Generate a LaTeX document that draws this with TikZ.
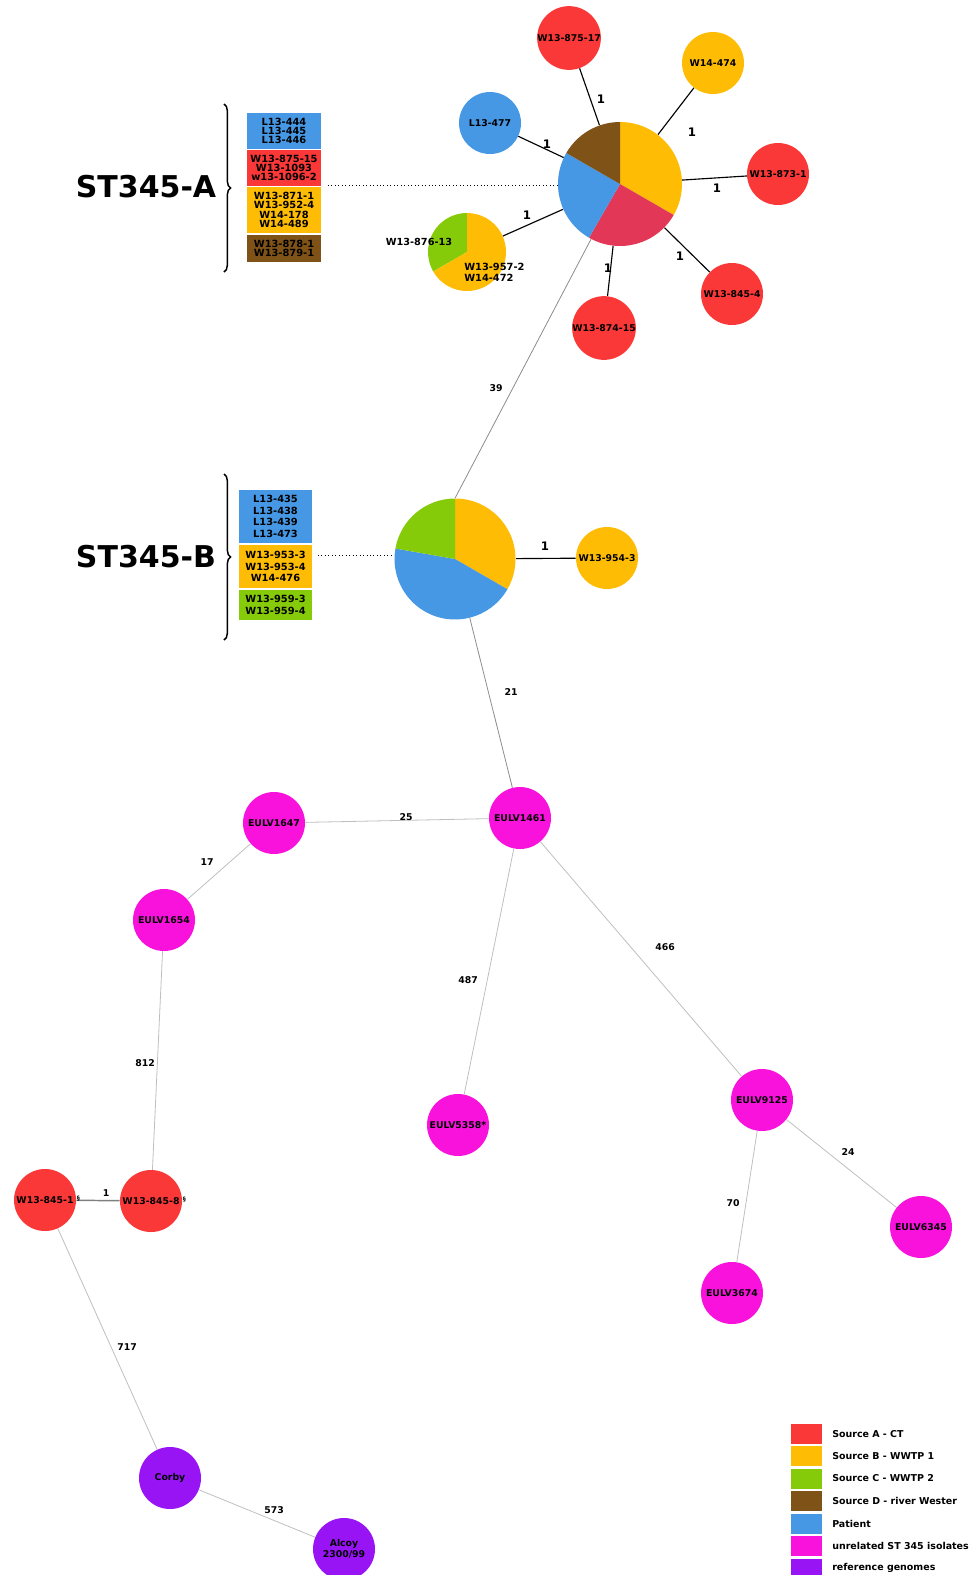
\documentclass[tikz,border=0pt]{standalone}
\usepackage{fontspec}
\setmainfont{DejaVu Sans}
\usetikzlibrary{decorations.pathreplacing}
\pgfdeclarelayer{background}
\pgfsetlayers{background,main}
\definecolor{cRed}{HTML}{FA3838}
\definecolor{cPieRed}{HTML}{E33757}
\definecolor{cYel}{HTML}{FFBC05}
\definecolor{cGrn}{HTML}{85CB0A}
\definecolor{cBrn}{HTML}{7F5318}
\definecolor{cBlu}{HTML}{4697E4}
\definecolor{cMag}{HTML}{F812DC}
\definecolor{cPur}{HTML}{9814F5}
\begin{document}
\begin{tikzpicture}[x=0.75pt,y=0.75pt,
  nd/.style={circle, minimum size=46.5pt, inner sep=0pt, text=black,
    font=\bfseries\fontsize{7}{8.2}\selectfont, align=center},
  pienode/.style={circle, inner sep=0pt, draw=none},
  topedge/.style={draw=black, line width=0.85pt},
  midedge/.style={draw=gray!90, line width=0.6pt},
  lowedge/.style={draw=black!25, line width=0.6pt},
  elbl/.style={font=\bfseries\fontsize{7}{8}\selectfont, inner sep=0pt},
  elblbig/.style={font=\bfseries\fontsize{8.8}{10}\selectfont, inner sep=0pt},
  boxA/.style={minimum width=55.5pt, inner sep=0pt, align=center,
    font=\bfseries\fontsize{7.4}{6.9}\selectfont},
  boxB/.style={minimum width=54.75pt, inner sep=0pt, align=center,
    font=\bfseries\fontsize{7.4}{8.6}\selectfont},
  bigtitle/.style={font=\bfseries\fontsize{22.5}{26}\selectfont, inner sep=0pt},
  bracestyle/.style={draw=black, line width=1.1pt,
    decorate, decoration={brace, amplitude=5pt}},
  legbox/.style={minimum width=23.25pt, minimum height=15pt, inner sep=0pt},
  legtxt/.style={font=\bfseries\fontsize{7.1}{8}\selectfont, inner sep=0pt, anchor=west}
]
\useasboundingbox (0,0) rectangle (973,-1575);

% ---------- pie nodes (invisible, for connectors) ----------
\node[pienode, minimum size=93pt] (pieA) at (620,-184) {};
\node[pienode, minimum size=90.75pt] (pieB) at (455,-559) {};
\node[pienode, minimum size=58.5pt] (pieS) at (467,-252) {};

% ---------- top cluster nodes ----------
\node[nd, fill=cRed] (n875) at (569,-38) {W13-875-17};
\node[nd, fill=cYel] (n474) at (713,-63) {W14-474};
\node[nd, fill=cBlu] (n477) at (490,-123) {L13-477};
\node[nd, fill=cRed] (n873) at (778,-174) {W13-873-1};
\node[nd, fill=cRed] (n8454) at (732,-294) {W13-845-4};
\node[nd, fill=cRed] (n874) at (604,-328) {W13-874-15};
\node[nd, fill=cYel] (n954) at (607,-558) {W13-954-3};

% ---------- lower nodes ----------
\node[nd, fill=cRed] (w8458) at (151,-1201) {W13-845-8\rlap{\hspace{2.5pt}\raisebox{2pt}{\fontsize{4.5}{5}\selectfont §}}};
\node[nd, fill=cRed] (w8451) at (45,-1200) {W13-845-1\rlap{\hspace{2.5pt}\raisebox{2pt}{\fontsize{4.5}{5}\selectfont §}}};
\node[nd, fill=cMag] (e1461) at (520,-818) {EULV1461};
\node[nd, fill=cMag] (e1647) at (274,-823) {EULV1647};
\node[nd, fill=cMag] (e1654) at (164,-920) {EULV1654};
\node[nd, fill=cPur] (corby) at (170,-1478) {Corby};
\node[nd, fill=cPur] (alcoy) at (344,-1549) {Alcoy\\2300/99};
\node[nd, fill=cMag] (e5358) at (458,-1125) {EULV5358*};
\node[nd, fill=cMag] (e9125) at (762,-1100) {EULV9125};
\node[nd, fill=cMag] (e6345) at (921,-1227) {EULV6345};
\node[nd, fill=cMag] (e3674) at (732,-1293) {EULV3674};

% ---------- connectors (on background layer) ----------
\begin{pgfonlayer}{background}
\draw[topedge] (pieA) -- (n875);
\draw[topedge] (pieA) -- (n474);
\draw[topedge] (pieA) -- (n477);
\draw[topedge] (pieA) -- (n873);
\draw[topedge] (pieA) -- (n8454);
\draw[topedge] (pieA) -- (n874);
\draw[topedge] (pieA) -- (pieS);
\draw[topedge] (pieB) -- (n954);
\draw[midedge] (pieA) -- (pieB.north);
\draw[midedge] (pieB) -- (e1461);
\draw[lowedge] (e1461) -- (e1647);
\draw[lowedge] (e1647) -- (e1654);
\draw[lowedge] (e1654) -- (w8458);
\draw[draw=gray, line width=1.1pt] (w8451) -- (w8458);
\draw[lowedge] (w8451) -- (corby);
\draw[lowedge] (corby) -- (alcoy);
\draw[lowedge] (e1461) -- (e5358);
\draw[lowedge] (e1461) -- (e9125);
\draw[lowedge] (e9125) -- (e6345);
\draw[lowedge] (e9125) -- (e3674);
\end{pgfonlayer}

% ---------- pies ----------
\fill[cYel] (620,-184) -- ++(90:62) arc (90:-30:62) -- cycle;
\fill[cPieRed] (620,-184) -- ++(-30:62) arc (-30:-120:62) -- cycle;
\fill[cBlu] (620,-184) -- ++(-120:62) arc (-120:-210:62) -- cycle;
\fill[cBrn] (620,-184) -- ++(150:62) arc (150:90:62) -- cycle;

\fill[cYel] (455,-559) -- ++(90:60.5) arc (90:-30:60.5) -- cycle;
\fill[cBlu] (455,-559) -- ++(-30:60.5) arc (-30:-190:60.5) -- cycle;
\fill[cGrn] (455,-559) -- ++(170:60.5) arc (170:90:60.5) -- cycle;

\fill[cGrn] (467,-252) -- ++(90:39) arc (90:210:39) -- cycle;
\fill[cYel] (467,-252) -- ++(210:39) arc (210:450:39) -- cycle;

\node[elbl, font=\bfseries\fontsize{7.3}{8}\selectfont] (sl1) at (419,-242) {W13-876-13};
\node[elbl, anchor=west, align=left, font=\bfseries\fontsize{7.4}{8.2}\selectfont] (sl2) at (464,-272.5) {W13-957-2\\W14-472};

% ---------- edge labels ----------
\node[elblbig] (t1) at (601,-99) {1};
\node[elblbig] (t2) at (692,-132) {1};
\node[elblbig] (t3) at (547,-144) {1};
\node[elblbig] (t4) at (717,-188) {1};
\node[elblbig] (t5) at (527,-215) {1};
\node[elblbig] (t6) at (680,-256) {1};
\node[elblbig] (t7) at (608,-268) {1};
\node[elblbig] (t8) at (545,-546) {1};
\node[elbl] (l39) at (496,-388) {39};
\node[elbl] (l21) at (511,-692) {21};
\node[elbl] (l25) at (406,-817) {25};
\node[elbl] (l17) at (207,-862) {17};
\node[elbl] (l812) at (145,-1063) {812};
\node[elbl] (l1) at (106,-1193) {1};
\node[elbl] (l717) at (127,-1347) {717};
\node[elbl] (l573) at (274,-1510) {573};
\node[elbl] (l487) at (468,-980) {487};
\node[elbl] (l466) at (665,-947) {466};
\node[elbl] (l24) at (848,-1152) {24};
\node[elbl] (l70) at (733,-1203) {70};

% ---------- ST345-A group ----------
\node[bigtitle] (tA) at (146,-187) {ST345-A};
\draw[bracestyle] (224,-104) -- (224,-272);
\node[boxA, fill=cBlu, minimum height=27pt] (bA1) at (284,-131) {L13-444\\L13-445\\L13-446};
\node[boxA, fill=cRed, minimum height=27pt] (bA2) at (284,-168) {W13-875-15\\W13-1093\\w13-1096-2};
\node[boxA, fill=cYel, minimum height=34.5pt] (bA3) at (284,-210) {W13-871-1\\W13-952-4\\W14-178\\W14-489};
\node[boxA, fill=cBrn, minimum height=20.25pt] (bA4) at (284,-248.5) {W13-878-1\\W13-879-1};
\coordinate (dA) at (328,-185);
\draw[dotted, line width=0.6pt] (dA) -- (dA -| pieA.west);

% ---------- ST345-B group ----------
\node[bigtitle] (tB) at (146,-557) {ST345-B};
\draw[bracestyle] (224,-474) -- (224,-640);
\node[boxB, fill=cBlu, minimum height=39.75pt] (bB1) at (275.5,-516.5) {L13-435\\L13-438\\L13-439\\L13-473};
\node[boxB, fill=cYel, minimum height=32.25pt] (bB2) at (275.5,-566.5) {W13-953-3\\W13-953-4\\W14-476};
\node[boxB, fill=cGrn, minimum height=22.5pt] (bB3) at (275.5,-605) {W13-959-3\\W13-959-4};
\coordinate (dB) at (318,-555);
\draw[dotted, line width=0.6pt] (dB) -- (dB -| pieB.west);

% ---------- legend ----------
\node[legbox, fill=cRed] (g1) at (806.5,-1434) {};
\node[legtxt] (g1t) at (832,-1434) {Source A - CT};
\node[legbox, fill=cYel] (g2) at (806.5,-1456) {};
\node[legtxt] (g2t) at (832,-1456) {Source B - WWTP 1};
\node[legbox, fill=cGrn] (g3) at (806.5,-1478.5) {};
\node[legtxt] (g3t) at (832,-1478.5) {Source C - WWTP 2};
\node[legbox, fill=cBrn] (g4) at (806.5,-1501) {};
\node[legtxt] (g4t) at (832,-1501) {Source D - river Wester};
\node[legbox, fill=cBlu] (g5) at (806.5,-1523.5) {};
\node[legtxt] (g5t) at (832,-1523.5) {Patient};
\node[legbox, fill=cMag] (g6) at (806.5,-1546) {};
\node[legtxt] (g6t) at (832,-1546) {unrelated ST 345 isolates};
\node[legbox, fill=cPur] (g7) at (806.5,-1568.5) {};
\node[legtxt] (g7t) at (832,-1568) {reference genomes};
\end{tikzpicture}
\end{document}
